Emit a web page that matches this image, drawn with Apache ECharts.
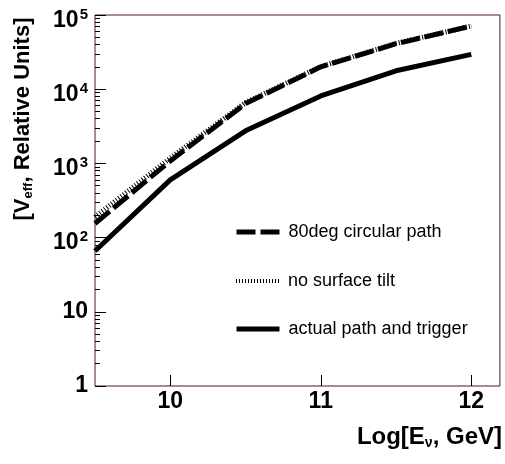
<!DOCTYPE html>
<html>
<head>
<meta charset="utf-8">
<script src="https://cdn.jsdelivr.net/npm/echarts@6/dist/echarts.min.js"></script>
<style>
    html, body { margin: 0; padding: 0; background: #fff; }
    #chart { width: 505px; height: 464px; }
</style>
</head>
<body>
<div id="chart"></div>
<script>
// log10 of neutrino energy (GeV)
var energies = [9.5, 10, 10.5, 11, 11.5, 12];
// effective volume, relative units
var circular80 = [155, 1080, 6400, 20000, 41000, 71000];
var noTilt = [190, 1180, 6600, 20200, 41500, 71000];
var actualPath = [66, 600, 2750, 8100, 17700, 29500];

var seriesNames = ["80deg circular path", "no surface tilt", "actual path and trigger"];
var xTickValues = [10, 11, 12];
var yMinorTicks = [2, 3, 4, 5, 6, 7, 8, 9, 20, 30, 40, 50, 60, 70, 80, 90,
    200, 300, 400, 500, 600, 700, 800, 900, 2000, 3000, 4000, 5000, 6000, 7000, 8000, 9000,
    20000, 30000, 40000, 50000, 60000, 70000, 80000, 90000];

var FONT = "Liberation Sans, Arial, sans-serif";
var frameColor = "#4a1a1a";

function pairs(xs, ys) {
    return xs.map(function (x, i) { return [x, ys[i]]; });
}

function powLabel(val) {
    var e = Math.round(Math.log10(val));
    if (e === 0) return "{p|1}";
    if (e === 1) return "{p|10}";
    return "{b|10}{s|" + e + "}";
}

function legendAt(name, top, width) {
    return {
        data: [name],
        left: 234,
        top: top,
        padding: 0,
        itemWidth: 43,
        itemHeight: 12,
        selectedMode: false,
        itemStyle: { opacity: 0 },
        lineStyle: { width: width },
        textStyle: {
            fontFamily: FONT,
            fontSize: 18,
            color: "#000",
            padding: [0, 0, 0, 4],
        },
    };
}

var chart = echarts.init(document.getElementById("chart"));
chart.setOption({
    animation: false,
    grid: {
        left: 95,
        right: 4,
        top: 15,
        bottom: 78,
        show: true,
        borderColor: frameColor,
        borderWidth: 1,
    },
    legend: [
        legendAt(seriesNames[0], 223, 5),
        legendAt(seriesNames[1], 272, 4),
        legendAt(seriesNames[2], 320, 5),
    ],
    xAxis: {
        type: "value",
        min: 9.5,
        max: 12.19,
        axisLine: { show: false },
        splitLine: { show: false },
        axisTick: {
            inside: true,
            length: 11,
            customValues: xTickValues,
            lineStyle: { color: "#000", width: 1 },
        },
        axisLabel: {
            customValues: xTickValues,
            margin: 4,
            fontFamily: FONT,
            fontSize: 23,
            fontWeight: "bold",
            color: "#000",
        },
        name: "Log[E{sub|ν}, GeV]",
        nameLocation: "middle",
        nameGap: 38,
        nameTextStyle: {
            fontFamily: FONT,
            fontSize: 24,
            fontWeight: "bold",
            color: "#000",
            padding: [0, 0, 0, 264],
            rich: {
                sub: {
                    fontFamily: FONT,
                    fontSize: 14,
                    fontWeight: "bold",
                    color: "#000",
                    verticalAlign: "bottom",
                    padding: [12, 0, 0, 0],
                },
            },
        },
    },
    yAxis: [
        {
            type: "log",
            min: 1,
            max: 100000,
            axisLine: { show: false },
            splitLine: { show: false },
            axisTick: {
                inside: true,
                length: 11,
                lineStyle: { color: "#000", width: 1 },
            },
            axisLabel: {
                margin: 7,
                formatter: powLabel,
                rich: {
                    p: {
                        fontFamily: FONT,
                        fontSize: 23,
                        fontWeight: "bold",
                        color: "#000",
                    },
                    b: {
                        fontFamily: FONT,
                        fontSize: 23,
                        fontWeight: "bold",
                        color: "#000",
                        lineHeight: 26,
                        verticalAlign: "bottom",
                    },
                    s: {
                        fontFamily: FONT,
                        fontSize: 15,
                        fontWeight: "bold",
                        color: "#000",
                        verticalAlign: "top",
                        padding: [9, 0, 10, 1],
                    },
                },
            },
            name: "[V{sub|eff}, Relative Units]",
            nameLocation: "middle",
            nameRotate: 90,
            nameGap: 60,
            nameTextStyle: {
                fontFamily: FONT,
                fontSize: 22,
                fontWeight: "bold",
                color: "#000",
                padding: [0, 0, 0, 163],
                rich: {
                    sub: {
                        fontFamily: FONT,
                        fontSize: 13,
                        fontWeight: "bold",
                        color: "#000",
                        verticalAlign: "bottom",
                        padding: [11, 0, 0, 0],
                    },
                },
            },
        },
        {
            // minor log ticks, placed on a log10 value scale
            type: "value",
            min: 0,
            max: 5,
            position: "left",
            axisLine: { show: false },
            splitLine: { show: false },
            axisLabel: { show: false },
            axisTick: {
                inside: true,
                length: 5,
                customValues: yMinorTicks.map(function (v) { return Math.log10(v); }),
                lineStyle: { color: "#000", width: 1 },
            },
        },
    ],
    series: [
        {
            name: seriesNames[1],
            type: "line",
            data: pairs(energies, noTilt),
            symbol: "none",
            z: 2,
            lineStyle: { color: "#000", width: 5, type: [1, 2] },
            itemStyle: { color: "#000" },
        },
        {
            name: seriesNames[0],
            type: "line",
            data: pairs(energies, circular80),
            symbol: "none",
            z: 3,
            lineStyle: { color: "#000", width: 5, type: [19, 5] },
            itemStyle: { color: "#000" },
        },
        {
            name: seriesNames[2],
            type: "line",
            data: pairs(energies, actualPath),
            symbol: "none",
            z: 3,
            lineStyle: { color: "#000", width: 5 },
            itemStyle: { color: "#000" },
        },
    ],
});
</script>
</body>
</html>
